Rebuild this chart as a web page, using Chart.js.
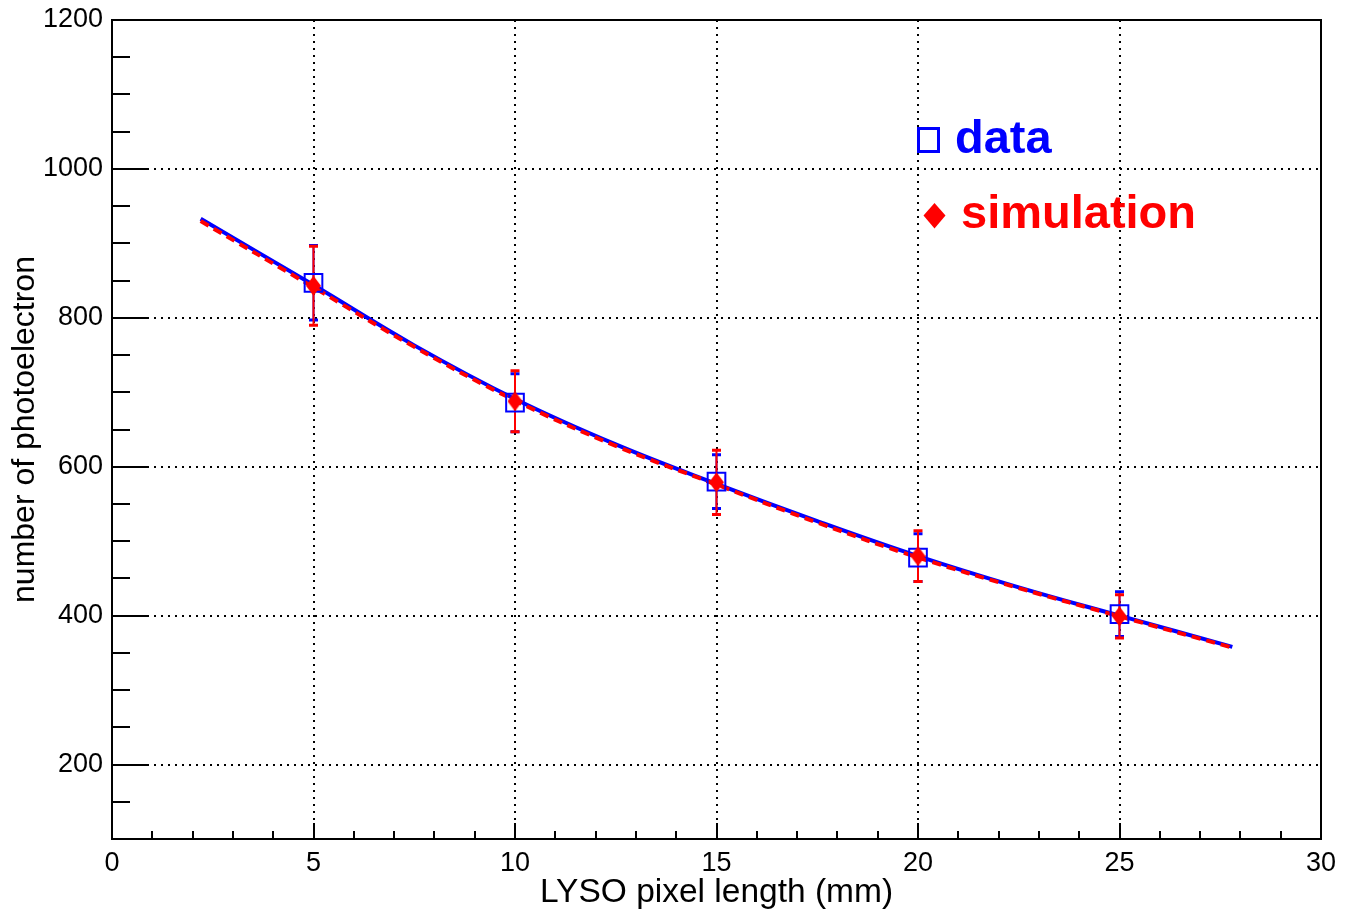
<!DOCTYPE html>
<html>
<head>
<meta charset="utf-8">
<title>Photoelectrons vs LYSO pixel length</title>
<script src="https://cdn.jsdelivr.net/npm/chart.js@4.4.0/dist/chart.umd.min.js"></script>
<style>
  html, body { margin: 0; padding: 0; background: #fff; }
</style>
</head>
<body>
<canvas id="npeChart" width="1357" height="920"></canvas>
<script>
// measured points (mm -> number of photoelectrons)
const pixelLength = [5, 10, 15, 20, 25];
const dataNpe = [847, 686, 580, 478, 402];
const dataErr = [50, 39, 36, 32, 30];
const simNpe = [843, 688, 579, 480, 399];
const simErr = [53, 41, 43, 34, 29];

// fitted curves
const fitLength = [2.2, 5, 7.5, 10, 12.5, 15, 17.5, 20, 22.5, 25, 27.8];
const dataFit = [933, 844, 763, 691, 630, 577, 527, 480, 438, 400, 358];
const simFit = [930, 841, 761, 689, 628, 576, 525, 478, 437, 399, 357];

const xTicks = [0, 5, 10, 15, 20, 25, 30];
const yTicks = [200, 400, 600, 800, 1000, 1200];

const BLUE = '#0000ff';
const RED = '#ff0000';
const FONT = '"Liberation Sans", Arial, Helvetica, sans-serif';

// taller-than-wide diamond marker like ROOT's style 33
function makeDiamond(w, h, color) {
    const c = document.createElement('canvas');
    c.width = w; c.height = h;
    const g = c.getContext('2d');
    g.fillStyle = color;
    g.beginPath();
    g.moveTo(w / 2, 0);
    g.lineTo(w, h / 2);
    g.lineTo(w / 2, h);
    g.lineTo(0, h / 2);
    g.closePath();
    g.fill();
    return c;
}

function toPoints(xs, ys) {
    return xs.map((x, i) => ({ x: x, y: ys[i] }));
}

function drawErrors(ctx, xs, ys, errs, color, xScale, yScale) {
    ctx.save();
    ctx.strokeStyle = color;
    xs.forEach((x, i) => {
        const px = xScale.getPixelForValue(x);
        const top = yScale.getPixelForValue(ys[i] + errs[i]);
        const bot = yScale.getPixelForValue(ys[i] - errs[i]);
        ctx.lineWidth = 2;
        ctx.beginPath();
        ctx.moveTo(px, top);
        ctx.lineTo(px, bot);
        ctx.stroke();
        ctx.lineWidth = 3;
        ctx.beginPath();
        ctx.moveTo(px - 4.5, top); ctx.lineTo(px + 4.5, top);
        ctx.moveTo(px - 4.5, bot); ctx.lineTo(px + 4.5, bot);
        ctx.stroke();
    });
    ctx.restore();
}

const rootStyle = {
    id: 'rootStyle',
    afterDatasetDraw(chart, args) {
        // error bars go above the fit curves but under the markers
        if (args.index !== 1) return;
        const xs = chart.scales.x, ys = chart.scales.y;
        drawErrors(chart.ctx, pixelLength, dataNpe, dataErr, BLUE, xs, ys);
        drawErrors(chart.ctx, pixelLength, simNpe, simErr, RED, xs, ys);
    },
    afterDraw(chart) {
        const ctx = chart.ctx;
        const a = chart.chartArea;
        const xs = chart.scales.x, ys = chart.scales.y;
        ctx.save();
        ctx.strokeStyle = '#000';
        ctx.lineWidth = 2;
        ctx.strokeRect(a.left, a.top, a.right - a.left, a.bottom - a.top);

        // inner ticks: y every 50, x every 1
        ctx.beginPath();
        for (let v = ys.min; v <= ys.max; v += 50) {
            const py = Math.round(ys.getPixelForValue(v));
            const len = v % 200 === 0 ? 36 : 18;
            ctx.moveTo(a.left, py);
            ctx.lineTo(a.left + len, py);
        }
        for (let v = xs.min; v <= xs.max; v += 1) {
            const px = Math.round(xs.getPixelForValue(v));
            const len = v % 5 === 0 ? 16 : 8;
            ctx.moveTo(px, a.bottom);
            ctx.lineTo(px, a.bottom - len);
        }
        ctx.stroke();

        // legend
        const ds = chart.data.datasets;
        ctx.lineWidth = 3;
        ctx.strokeStyle = ds[2].borderColor;
        ctx.strokeRect(918.5, 128.5, 20, 23);
        ctx.fillStyle = ds[3].borderColor;
        ctx.beginPath();
        ctx.moveTo(934.5, 203);
        ctx.lineTo(945.5, 215.5);
        ctx.lineTo(934.5, 228.5);
        ctx.lineTo(923.5, 215.5);
        ctx.closePath();
        ctx.fill();

        ctx.font = 'bold 47px ' + FONT;
        ctx.textBaseline = 'alphabetic';
        ctx.textAlign = 'left';
        ctx.fillStyle = ds[2].borderColor;
        ctx.fillText(ds[2].label, 955, 153);
        ctx.fillStyle = ds[3].borderColor;
        ctx.fillText(ds[3].label, 961, 228);
        ctx.restore();
    }
};

const ctx = document.getElementById('npeChart').getContext('2d');
new Chart(ctx, {
    type: 'scatter',
    data: {
        datasets: [
            {
                label: 'data fit',
                data: toPoints(fitLength, dataFit),
                showLine: true,
                borderColor: BLUE,
                borderWidth: 4,
                pointRadius: 0,
                tension: 0.4,
                order: 4
            },
            {
                label: 'simulation fit',
                data: toPoints(fitLength, simFit),
                showLine: true,
                borderColor: RED,
                borderWidth: 4,
                borderDash: [9, 6],
                pointRadius: 0,
                tension: 0.4,
                order: 3
            },
            {
                label: 'data',
                data: toPoints(pixelLength, dataNpe),
                pointStyle: 'rect',
                pointRadius: 12.5,
                borderColor: BLUE,
                borderWidth: 2,
                backgroundColor: 'rgba(0,0,0,0)',
                order: 2
            },
            {
                label: 'simulation',
                data: toPoints(pixelLength, simNpe),
                pointStyle: makeDiamond(15, 20, RED),
                borderColor: RED,
                backgroundColor: RED,
                order: 1
            }
        ]
    },
    options: {
        responsive: false,
        animation: false,
        events: [],
        layout: { padding: { top: 20, right: 36, left: 0, bottom: 0 } },
        plugins: {
            legend: { display: false },
            tooltip: { enabled: false }
        },
        scales: {
            x: {
                type: 'linear',
                min: 0,
                max: 30,
                afterBuildTicks: axis => { axis.ticks = xTicks.map(v => ({ value: v })); },
                afterFit: scale => {
                    scale.height = 81;
                    scale.paddingLeft = 0;
                    scale.paddingRight = 0;
                },
                grid: { color: '#000', lineWidth: 2, drawTicks: false },
                border: { display: false, dash: [2, 5] },
                ticks: {
                    color: '#000', padding: 8, maxRotation: 0,
                    font: { family: FONT, size: 27 },
                    callback: v => String(v)
                },
                title: {
                    display: true,
                    text: 'LYSO pixel length (mm)',
                    color: '#000',
                    font: { family: FONT, size: 33.5, lineHeight: 1 },
                    padding: { top: 0, bottom: 10 }
                }
            },
            y: {
                type: 'linear',
                min: 100,
                max: 1200,
                afterBuildTicks: axis => { axis.ticks = yTicks.map(v => ({ value: v })); },
                afterFit: scale => {
                    scale.width = 112;
                    scale.paddingTop = 0;
                    scale.paddingBottom = 0;
                },
                grid: { color: '#000', lineWidth: 2, drawTicks: false },
                border: { display: false, dash: [2, 5] },
                ticks: {
                    color: '#000', padding: 9,
                    font: { family: FONT, size: 27 },
                    callback: v => String(v)
                },
                title: {
                    display: true,
                    text: 'number of photoelectron',
                    color: '#000',
                    font: { family: FONT, size: 32, lineHeight: 1 },
                    padding: { top: 9, bottom: 0 }
                }
            }
        }
    },
    plugins: [rootStyle]
});
</script>
</body>
</html>
